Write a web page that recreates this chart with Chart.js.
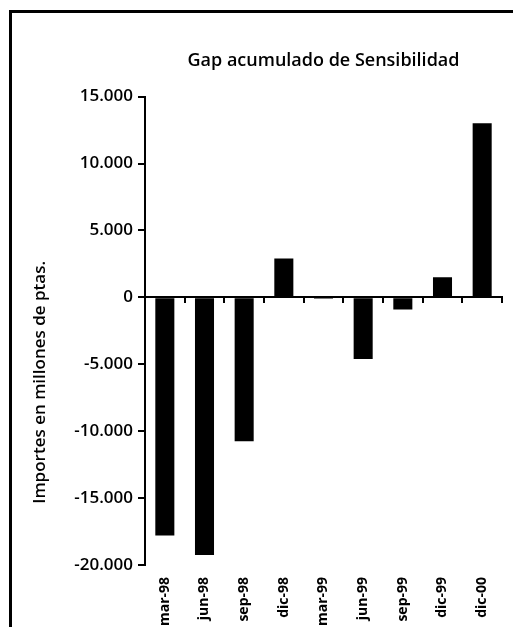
<!DOCTYPE html>
<html>
<head>
<meta charset="utf-8">
<script src="https://cdn.jsdelivr.net/npm/chart.js@4"></script>
<style>
  html, body { margin: 0; padding: 0; background: #fff; }
  #wrap { position: relative; width: 513px; height: 627px; overflow: hidden; }
  #frame { position: absolute; left: 9px; top: 10px; right: -5px; bottom: -5px;
           border-left: 3px solid #000; border-top: 3px solid #000; }
  canvas { position: absolute; left: 0; top: 0; }
</style>
</head>
<body>
<div id="wrap"><div id="frame"></div><canvas id="c" width="513" height="627"></canvas></div>
<script>
/* Gap acumulado de Sensibilidad — bar chart, values in millones de ptas. */

const CATEGORIES = ["mar-98", "jun-98", "sep-98", "dic-98", "mar-99", "jun-99", "sep-99", "dic-99", "dic-00"];
const GAP = [-17800, -19250, -10750, 2900, -100, -4600, -900, 1500, 13000];
const Y_MIN = -20000;
const Y_MAX = 15000;
const Y_STEP = 5000;

const TITLE = "Gap acumulado de Sensibilidad";
const Y_TITLE = "Importes en millones de ptas.";
const FONT = '"Open Sans", "DejaVu Sans", sans-serif';

function thousands(v) {
  const s = Math.abs(v).toString().replace(/\B(?=(\d{3})+(?!\d))/g, ".");
  return (v < 0 ? "-" : "") + s;
}

// y-axis title sits a bit below the middle of the plot in the original
const yTitle = {
  id: "yTitle",
  afterDraw(chart) {
    const { ctx, chartArea } = chart;
    ctx.save();
    ctx.translate(40, chartArea.top + chartArea.height * 0.61);
    ctx.rotate(-Math.PI / 2);
    ctx.textAlign = "center";
    ctx.textBaseline = "middle";
    ctx.fillStyle = "#000";
    ctx.font = "600 17px " + FONT;
    ctx.fillText(Y_TITLE, 0, 0);
    ctx.restore();
  },
};

new Chart(document.getElementById("c"), {
  type: "bar",
  data: {
    labels: CATEGORIES,
    datasets: [{
      label: "Gap",
      data: GAP,
      xAxisID: "x",
      backgroundColor: "#000",
      borderWidth: 0,
      categoryPercentage: 1,
      barPercentage: 0.48,
    }],
  },
  options: {
    responsive: false,
    animation: false,
    devicePixelRatio: 1,
    layout: { padding: { top: 40, left: 14, right: 11, bottom: 0 } },
    plugins: {
      legend: { display: false },
      tooltip: { enabled: false },
      title: {
        display: true, text: TITLE, fullSize: false, color: "#000",
        font: { family: FONT, size: 18, weight: "600" },
        padding: { top: 10, bottom: 25 },
      },
    },
    scales: {
      x: {
        type: "category", position: "bottom", offset: true,
        grid: { display: false, drawTicks: false },
        border: { display: false },
        ticks: { color: "#000", font: { family: FONT, size: 14, weight: "700" },
                 minRotation: 90, maxRotation: 90, padding: 12, autoSkip: false },
        afterFit(s) { s.height = 62; },
      },
      x2: {
        type: "category", labels: CATEGORIES, position: { y: 0 }, offset: true,
        grid: { offset: true, drawOnChartArea: false, drawTicks: true, tickLength: 5, color: "#000", lineWidth: 2 },
        border: { color: "#000", width: 2 },
        ticks: { display: false },
      },
      y: {
        min: Y_MIN, max: Y_MAX,
        ticks: { stepSize: Y_STEP, color: "#000", padding: 5,
                 font: { family: FONT, size: 17, weight: "600" },
                 callback: v => thousands(v) },
        grid: { drawOnChartArea: false, drawTicks: true, tickLength: 7, color: "#000", lineWidth: 2 },
        border: { color: "#000", width: 2 },
        afterFit(s) { s.width = 145 - 14; },
      },
    },
  },
  plugins: [yTitle],
});
</script>
</body>
</html>
